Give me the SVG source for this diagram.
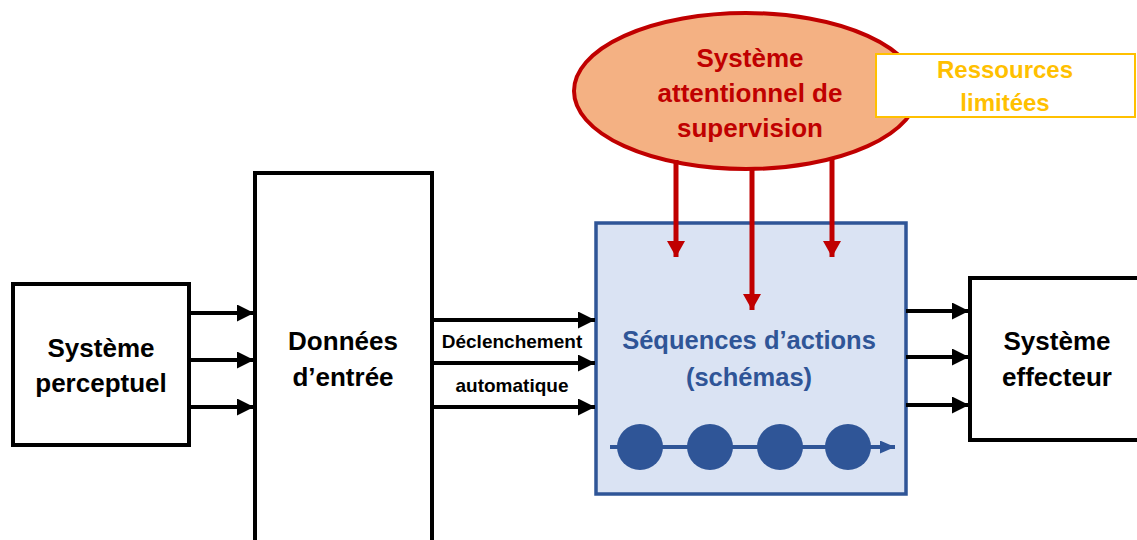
<svg xmlns="http://www.w3.org/2000/svg" width="1137" height="540" viewBox="0 0 1137 540">
<style>
.box{fill:#fff;stroke:#000;stroke-width:4}
.lbl{font-family:"Liberation Sans",Arial,sans-serif;font-weight:bold;text-anchor:middle}
.blk{fill:#000;font-size:26px}
.red{fill:#c00000;font-size:26px}
.blu{fill:#2f5597;font-size:25.5px}
.yel{fill:#ffc000;font-size:24px}
.small{fill:#000;font-size:19px}
.ka{stroke:#000;stroke-width:4;fill:none;marker-end:url(#hk)}
.ra{stroke:#c00000;stroke-width:5;fill:none;marker-end:url(#hr)}
</style>
<defs>
<marker id="hk" viewBox="0 0 16 16" markerWidth="17" markerHeight="17" refX="16" refY="8" orient="auto" markerUnits="userSpaceOnUse"><path d="M0,0 L16,8 L0,16 Z" fill="#000"/></marker>
<marker id="hr" viewBox="0 0 16 18" markerWidth="16" markerHeight="18" refX="16" refY="9" orient="auto" markerUnits="userSpaceOnUse"><path d="M0,0 L16,9 L0,18 Z" fill="#c00000"/></marker>
<marker id="hb" viewBox="0 0 15 13" markerWidth="15" markerHeight="13" refX="15" refY="6.5" orient="auto" markerUnits="userSpaceOnUse"><path d="M0,0 L15,6.5 L0,13 Z" fill="#2f5597"/></marker>
</defs>
<rect width="1137" height="540" fill="#fff"/>
<g id="perceptuel">
<rect class="box" x="13" y="284" width="176" height="161"/>
<text class="lbl blk" x="101" y="357">Système</text>
<text class="lbl blk" x="101" y="392">perceptuel</text>
</g>
<g id="donnees">
<rect class="box" x="255" y="173" width="177" height="380"/>
<text class="lbl blk" x="343" y="350">Données</text>
<text class="lbl blk" x="343" y="386">d’entrée</text>
</g>
<g id="declenchement">
<text class="lbl small" x="512" y="348">Déclenchement</text>
<text class="lbl small" x="512" y="392">automatique</text>
</g>
<g id="sequences">
<rect x="596" y="223" width="310" height="271" fill="#dae3f3" stroke="#2f5597" stroke-width="3.5"/>
<text class="lbl blu" x="749" y="349">Séquences d’actions</text>
<text class="lbl blu" x="749" y="386">(schémas)</text>
<line x1="610" y1="447" x2="895" y2="447" stroke="#2f5597" stroke-width="4" marker-end="url(#hb)"/>
<circle cx="640" cy="447" r="23" fill="#2f5597"/>
<circle cx="710" cy="447" r="23" fill="#2f5597"/>
<circle cx="780" cy="447" r="23" fill="#2f5597"/>
<circle cx="848" cy="447" r="23" fill="#2f5597"/>
</g>
<g id="effecteur">
<rect class="box" x="970" y="278" width="180" height="162"/>
<text class="lbl blk" x="1057" y="350">Système</text>
<text class="lbl blk" x="1057" y="386">effecteur</text>
</g>
<g id="sas">
<ellipse cx="746" cy="91" rx="172" ry="78" fill="#f4b183" stroke="#c00000" stroke-width="4"/>
<text class="lbl red" x="750" y="67">Système</text>
<text class="lbl red" x="750" y="102">attentionnel de</text>
<text class="lbl red" x="750" y="137">supervision</text>
</g>
<g id="ressources">
<rect x="876" y="54" width="259" height="63" fill="#fff" stroke="#ffc000" stroke-width="2"/>
<text class="lbl yel" x="1005" y="78">Ressources</text>
<text class="lbl yel" x="1005" y="111">limitées</text>
</g>
<g id="connectors">
<line class="ka" x1="189" y1="313" x2="254" y2="313"/>
<line class="ka" x1="189" y1="360" x2="254" y2="360"/>
<line class="ka" x1="189" y1="407" x2="254" y2="407"/>
<line class="ka" x1="432" y1="320" x2="595" y2="320"/>
<line class="ka" x1="432" y1="363" x2="595" y2="363"/>
<line class="ka" x1="432" y1="407" x2="595" y2="407"/>
<line class="ka" x1="906" y1="311" x2="969" y2="311"/>
<line class="ka" x1="906" y1="357" x2="969" y2="357"/>
<line class="ka" x1="906" y1="405" x2="969" y2="405"/>
<line class="ra" x1="676" y1="160" x2="676" y2="257"/>
<line class="ra" x1="752" y1="167" x2="752" y2="310"/>
<line class="ra" x1="832" y1="157" x2="832" y2="257"/>
</g>
</svg>
